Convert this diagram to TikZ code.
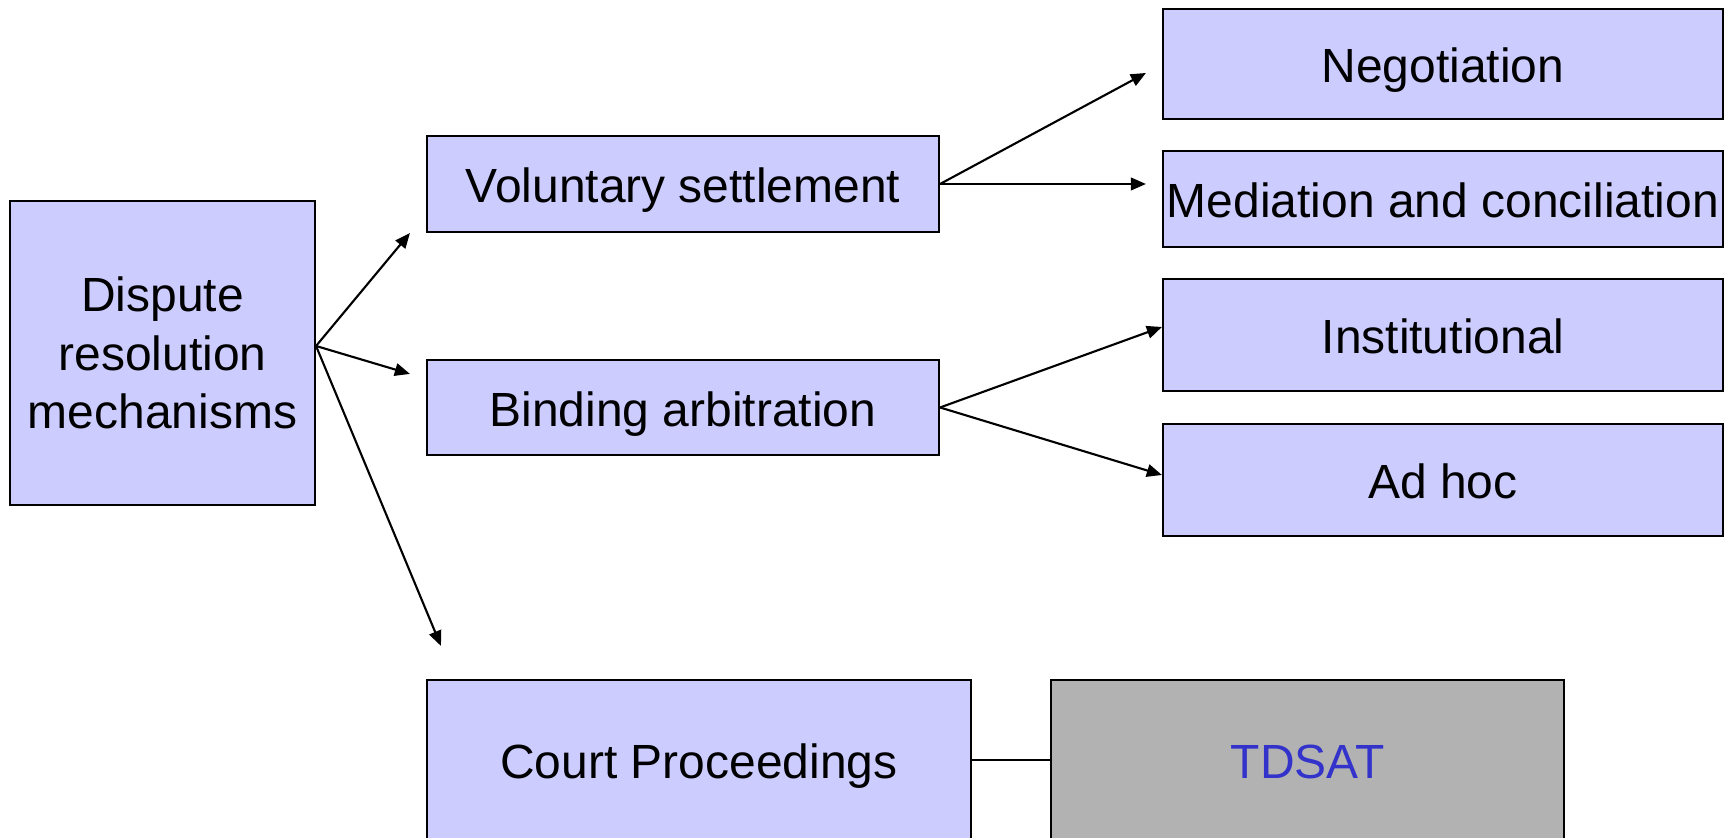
\documentclass[tikz,border=0pt]{standalone}
\usepackage{fontspec}
\setmainfont{Liberation Sans}
\usetikzlibrary{arrows.meta, positioning}
\definecolor{boxblue}{HTML}{CCCCFF}
\definecolor{boxgray}{HTML}{B2B2B2}
\definecolor{txtblue}{HTML}{3333CC}

\begin{document}
\begin{tikzpicture}[b/.style={draw, line width=0.6pt, fill=boxblue, inner sep=0pt, align=center, font=\fontsize{13.65}{16.6}\selectfont},
    l/.style={text height=12.4pt, text depth=1.6pt},
    arr/.style={line width=0.6pt, -{Triangle[length=4.3pt,width=3.6pt]}}]
      \useasboundingbox (0,0) rectangle (17.32,8.38);
      \clip (0,0) rectangle (17.32,8.38);

      \node[b, minimum width=3.05cm, minimum height=3.04cm] (drm) at (1.625,4.85) {Dispute\\resolution\\mechanisms};
      \node[b, l, minimum width=5.12cm, minimum height=0.96cm] (vs) at (6.83,6.54) {Voluntary settlement};
      \node[b, l, minimum width=5.12cm, minimum height=0.95cm] (ba) at (6.83,4.305) {Binding arbitration};
      \node[b, l, minimum width=5.44cm, minimum height=1.6cm] (cp) at (6.99,0.78) {Court Proceedings};
      \node[b, l, fill=boxgray, text=txtblue, minimum width=5.13cm, minimum height=1.6cm, right=0.78 of cp] (tdsat) {TDSAT};

      \node[b, l, minimum width=5.6cm, minimum height=1.1cm] (neg) at (14.43,7.74) {Negotiation};
      \node[b, l, minimum width=5.6cm, minimum height=0.96cm] (med) at (14.43,6.39) {Mediation and conciliation};
      \node[b, l, minimum width=5.6cm, minimum height=1.12cm] (inst) at (14.43,5.03) {Institutional};
      \node[b, l, minimum width=5.6cm, minimum height=1.12cm] (adhoc) at (14.43,3.58) {Ad hoc};

      \coordinate (o) at ([yshift=0.07cm]drm.east);
      \coordinate (m) at (med.west |- vs.east);
      \draw[arr] (o) -- ([xshift=-0.16cm]vs.south west);
      \draw[arr] (o) -- ([shift={(-0.16,-0.15)}]ba.north west);
      \draw[arr] (o) -- ([shift={(0.15,0.33)}]cp.north west);
      \draw[arr] (vs.east) -- ([shift={(-0.16,-0.09)}]neg.west);
      \draw[arr] (vs.east) -- ([xshift=-0.16cm]m);
      \draw[arr] (ba.east) -- ([yshift=0.08cm]inst.west);
      \draw[arr] (ba.east) -- ([yshift=0.05cm]adhoc.west);
      \draw[line width=0.6pt] (cp) -- (tdsat);
    \end{tikzpicture}
\end{document}
